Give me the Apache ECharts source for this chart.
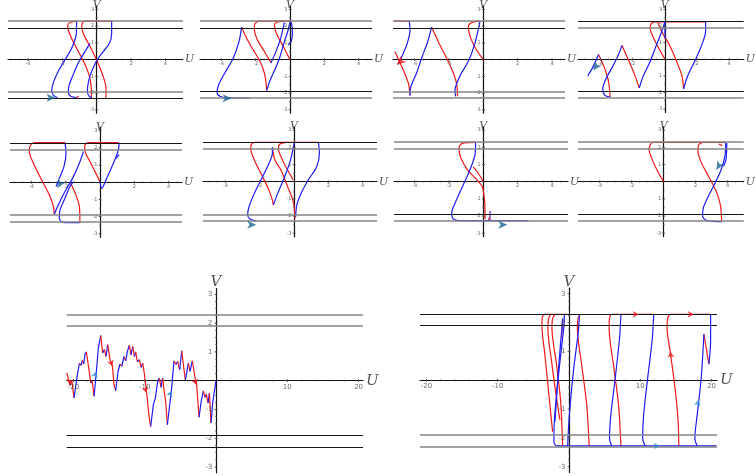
<!DOCTYPE html>
<html><head><meta charset="utf-8">
<script src="https://cdn.jsdelivr.net/npm/echarts@6/dist/echarts.min.js"></script>
<style>html,body{margin:0;padding:0;background:#fff}#c{width:756px;height:476px}</style>
</head><body><div id="c"></div>
<script>
// ---------- DATA (U, V) ----------
const thresholds = [2.3, 1.9, -1.9, -2.3];
const smallXTicks = [-4, -2, 2, 4];
const smallYTicks = [-3, -2, -1, 1, 2, 3];
const bigXTicks = [-20, -10, 10, 20];
const bigYTicks = [-3, -2, -1, 1, 2, 3];

const p1Red = [
 [[0.87,2.3],[-0.68,2.3],[-0.83,2.2],[-0.87,1.94],[-0.74,1.46],[-0.43,0.87],[-0.1,0.19],[0.19,-0.49],[0.43,-1.17],[0.54,-1.69],[0.54,-2.27]],
 [[-1.17,2.3],[-1.51,2.23],[-1.69,2.04],[-1.65,1.75],[-1.46,1.26],[-1.07,0.49],[-0.68,-0.29],[-0.43,-0.97],[-0.33,-1.55],[-0.31,-2.27]],
 [[-1.17,-2.27],[-1.05,-2.17]]
];
const p1Blue = [
 [[0.87,2.3],[0.87,1.55],[0.74,0.97],[0.39,0.49],[0.1,0.1],[-0.16,-0.39],[-0.39,-0.97],[-0.52,-1.55],[-0.54,-1.94],[-0.43,-2.19],[-0.29,-2.27]],
 [[-1.17,2.3],[-1.2,1.46],[-1.46,0.68],[-1.84,0],[-2.23,-0.68],[-2.52,-1.36],[-2.62,-1.88],[-2.52,-2.14],[-2.3,-2.27]],
 [[-0.39,0.97],[-0.68,0.49],[-1.07,-0.19],[-1.4,-0.97],[-1.61,-1.55],[-1.65,-1.94],[-1.51,-2.19],[-1.17,-2.27]]
];
const p1Arrows = [[-2.4,-2.27,-90]];

const p2Red = [
 [[-2.82,1.94],[-2.52,1.26],[-2.14,0.58],[-1.75,-0.1],[-1.5,-0.78],[-1.4,-1.36],[-1.36,-1.84]],
 [[0,2.3],[-1.75,2.3],[-2.04,2.14],[-2.08,1.84],[-1.94,1.26],[-1.55,0.58],[-1.11,-0.19]],
 [[-0.33,2.3],[-0.78,2.23],[-0.91,2.04],[-0.78,1.55],[-0.39,0.78],[0,0]]
];
const p2Blue = [
 [[-2.82,1.94],[-2.97,1.07],[-3.3,0.1],[-3.79,-0.78],[-4.14,-1.46],[-4.25,-1.94],[-4.08,-2.19],[-3.59,-2.29],[-2.33,-2.29]],
 [[-1.36,-1.84],[-1.17,-1.26],[-0.87,-0.58],[-0.58,0.19],[-0.33,1.07],[-0.14,1.65],[0,2.23]],
 [[-1.11,-0.19],[-0.78,0.58],[-0.52,1.36],[-0.39,1.94],[-0.33,2.23]],
 [[0,2.3],[0.1,2.14],[0.14,1.55],[0.06,1.07],[-0.1,0.87]]
];
const p2Arrows = [[-3.4,-2.31,-90]];

const p3Red = [
 [[-5.17,2.3],[-4.31,2.3]],
 [[-5.15,0.49],[-4.85,-0.19],[-4.56,-0.87],[-4.35,-1.46],[-4.27,-2.14]],
 [[-3.01,1.94],[-2.62,1.07],[-2.14,0.1],[-1.75,-0.78],[-1.55,-1.46],[-1.5,-2.19]],
 [[-0.19,2.3],[-0.72,2.19],[-0.87,1.94],[-0.76,1.36],[-0.45,0.68],[0,0]]
];
const p3Blue = [
 [[-4.31,2.3],[-4.27,1.75],[-4.43,0.97],[-4.7,0.29],[-4.95,-0.29]],
 [[-4.27,-2.14],[-4.23,-1.65],[-3.88,-0.78],[-3.59,0.1],[-3.24,1.07],[-3.01,1.94]],
 [[-1.61,-2.19],[-1.65,-1.84],[-1.36,-0.97],[-0.87,-0.1],[-0.49,0.97],[-0.19,2.3]]
];
const p3RedArrows = [[-5.05,-0.3,130]];

const p4Red = [
 [[-4.12,0.29],[-3.79,-0.43],[-3.53,-1.2],[-3.44,-1.79],[-3.4,-2.27]],
 [[-2.66,0.83],[-2.31,0.06],[-1.92,-0.82],[-1.59,-1.73]],
 [[0.06,2.25],[-0.62,2.25],[-0.85,2.14],[-0.91,1.84],[-0.72,1.32],[-0.37,0.64],[0,0.02]],
 [[2.54,2.25],[0.06,2.25]],
 [[-0.43,2.19],[-0.17,1.61],[0.25,0.93],[0.74,-0.14],[1.07,-1.01],[1.17,-1.79]]
];
const p4Blue = [
 [[-4.8,-1.01],[-4.45,-0.43],[-4.12,0.29]],
 [[-3.4,-2.27],[-3.73,-2.17],[-3.86,-1.79],[-3.67,-1.2],[-3.24,-0.43],[-2.89,0.25],[-2.66,0.83]],
 [[-1.59,-1.73],[-1.34,-1.01],[-0.91,-0.14],[-0.49,0.93],[-0.17,1.71],[0,2.25]],
 [[1.17,-1.79],[1.42,-1.01],[1.9,-0.04],[2.29,0.83],[2.54,1.71],[2.54,2.25]],
 [[0,2.25],[0.02,1.22]]
];
const p4Arrows = [[-4.45,-0.68,145]];

const p5Red = [
 [[-2.04,2.31],[-3.79,2.31],[-4.04,2.17],[-4.12,1.79],[-3.88,1.11],[-3.4,0.14],[-2.95,-0.74],[-2.72,-1.38],[-2.66,-1.86]],
 [[1.07,2.31],[-0.68,2.31],[-0.89,2.12],[-0.87,1.79],[-0.58,1.2],[0,0.04]],
 [[-1.71,-0.06],[-1.4,-0.74],[-1.2,-1.42],[-1.17,-2.35]]
];
const p5Blue = [
 [[-2.04,2.31],[-1.98,1.69],[-2.1,0.91],[-2.37,0.23],[-2.56,-0.25]],
 [[-2.66,-1.86],[-2.43,-1.32],[-2.04,-0.54],[-1.55,0.33],[-1.17,1.2],[-0.97,1.79]],
 [[0,0.04],[0.1,-0.35],[0.39,0.23],[0.78,1.11],[1.01,1.69],[1.11,2.17],[1.07,2.31]],
 [[1.11,1.61],[0.95,1.4]],
 [[-1.17,-2.35],[-2.14,-2.33],[-2.37,-2.1],[-2.33,-1.61],[-2.04,-0.93],[-1.75,-0.25],[-1.55,0.04]]
];
const p5Arrows = [[-2.49,-0.35,150]];

const p6Red = [
 [[1.42,2.29],[-2.27,2.29],[-2.47,2.19],[-2.52,1.94],[-2.31,1.26],[-1.88,0.39],[-1.46,-0.49],[-1.26,-1.07],[-1.2,-1.36]],
 [[-1.26,2.0],[-1.11,1.26],[-0.76,0.68],[-0.37,-0.29],[-0.04,-1.17],[0.06,-2.14]],
 [[-0.43,2.29],[-0.82,2.19],[-0.91,1.94],[-0.76,1.46],[-0.43,0.78],[-0.04,0.1]]
];
const p6Blue = [
 [[-1.2,-1.36],[-0.95,-0.68],[-0.62,0.1],[-0.23,1.17],[0.02,2.29]],
 [[-1.26,2.0],[-1.26,1.65],[-1.5,0.97],[-1.88,0.19],[-2.31,-0.68],[-2.62,-1.46],[-2.7,-1.94],[-2.56,-2.17],[-2.17,-2.29]],
 [[1.42,2.29],[1.48,1.65],[1.32,0.87],[0.83,0.1],[0.41,-0.68],[0.16,-1.36],[0.1,-2.04]]
];
const p6Arrows = [[-2.2,-2.5,-90]];

const p7Red = [
 [[-0.45,2.29],[-1.22,2.23],[-1.42,1.94],[-1.3,1.36],[-0.91,0.68],[-0.45,0.19],[-0.06,-0.29],[0.06,-0.97],[0.1,-1.65],[0.1,-2.19]],
 [[-0.58,0.87],[-0.29,0.49],[0,0]],
 [[0.3,-2.25],[0.36,-2.05]]
];
const p7Blue = [
 [[-0.45,2.29],[-0.49,1.55],[-0.78,0.68],[-1.17,-0.19],[-1.61,-1.17],[-1.84,-1.84],[-1.75,-2.17],[-1.26,-2.27],[2.62,-2.27]]
];
const p7Purple = [[[0.39,-1.69],[0.39,-2.23]]];
const p7Arrows = [[1.4,-2.5,-90]];

const p8Red = [
 [[3.88,2.29],[-0.68,2.29],[-0.83,2.16],[-0.91,1.88],[-0.72,1.3],[-0.33,0.52],[0,0]],
 [[2.43,2.29],[2.19,2.14],[2.14,1.81],[2.33,1.17],[2.82,0.29],[3.3,-0.58],[3.55,-1.36],[3.63,-2.33]],
 [[3.45,2.2],[3.65,2.1]]
];
const p8Blue = [
 [[3.63,-2.33],[2.72,-2.27],[2.43,-2.0],[2.49,-1.5],[2.78,-0.87],[3.2,-0.1],[3.59,0.68],[3.84,1.55],[3.88,2.29]],
 [[3.95,2.25],[3.9,1.3],[3.75,0.9]]
];
const p8Arrows = [[3.3,0.68,150]];

// long trajectory (bottom-left), vertices of the zigzag
const p9Path = [[-20.93,0.27],[-20.47,-0.16],[-20.23,0],[-19.91,-0.6],[-19.44,0.21],[-19.16,0.61],[-18.93,0.53],[-18.74,0.71],[-18.55,0.58],[-18.36,0.93],[-18.18,1.0],[-17.85,0.44],[-17.57,-0.08],[-17.38,0],[-17.1,-0.54],[-16.78,0.32],[-16.5,1.13],[-16.17,1.57],[-15.89,0.96],[-15.65,1.08],[-15.42,0.84],[-15.19,1.25],[-14.86,0.73],[-14.53,0.5],[-14.3,-0.14],[-14.07,-0.35],[-13.74,0.32],[-13.46,0.58],[-13.22,0.5],[-12.9,0.84],[-12.66,0.69],[-12.43,1.02],[-12.15,1.23],[-11.92,0.9],[-11.68,1.19],[-11.45,0.84],[-11.26,1.0],[-11.03,0.65],[-10.75,0.73],[-10.51,0.46],[-10.28,0.61],[-10.09,0.32],[-9.72,-0.43],[-9.39,-1.24],[-9.16,-1.59],[-8.79,-0.83],[-8.5,-0.6],[-8.18,-0.02],[-7.94,0.09],[-7.71,-0.23],[-7.48,0.09],[-7.24,-0.43],[-7.06,-0.72],[-6.82,-1.53],[-6.26,-0.35],[-5.89,0.69],[-5.61,0.56],[-5.37,0.67],[-5.09,0.38],[-4.81,1.04],[-4.58,0.56],[-4.3,0.03],[-4.11,0.27],[-3.88,0.61],[-3.64,0.32],[-3.32,0.69],[-3.08,0.32],[-2.94,0.09],[-2.71,-0.16],[-2.38,-1.27],[-2.06,-0.69],[-1.78,-0.35],[-1.54,-0.58],[-1.36,-0.46],[-1.12,-0.78],[-0.93,-0.43],[-0.7,-1.47],[-0.47,-0.78],[-0.23,-0.37],[0,0]];
const p9BlueMarks = [[-16.78,0.32,-20],[-6.26,-0.35,-20]];
const p9RedMarks = [[-20.47,-0.16,180],[-14.53,0.5,200],[-9.72,-0.43,200],[-2.71,-0.16,200]];

const p10Red = [
 [[-0.33,2.29],[-3.38,2.29],[-3.71,2.21],[-3.8,1.92],[-3.38,0.88],[-2.91,-0.28],[-2.54,-1.2],[-2.3,-1.78]],
 [[-2.58,2.29],[-2.86,2.15],[-2.96,1.81],[-2.44,0.65],[-1.74,-0.63],[-1.27,-1.38]],
 [[-1.97,2.29],[-2.3,2.15],[-2.39,1.81],[-1.74,0.53],[-1.17,-0.74],[-0.89,-2.28]],
 [[1.55,2.29],[1.27,2.15],[1.17,1.81],[1.78,0.53],[2.49,-0.86],[2.82,-2.28]],
 [[11.88,2.29],[6.01,2.29],[5.68,2.15],[5.63,1.81],[6.24,0.53],[6.95,-0.86],[7.28,-2.28]],
 [[19.86,2.29],[14.23,2.29],[13.85,2.15],[13.76,1.81],[14.23,0.94],[14.93,-0.39],[15.31,-1.44],[15.4,-2.28]],
 [[18.92,1.6],[19.62,0.56]]
];
const p10Blue = [
 [[-0.66,2.29],[-0.7,1.92],[-1.27,0.65],[-1.83,-0.74],[-2.11,-1.78],[-2.11,-2.13],[-1.74,-2.28],[20.7,-2.28]],
 [[1.46,2.29],[1.31,1.69],[0.61,0.3],[0.05,-1.2],[-0.19,-2.28]],
 [[-0.89,2.15],[-1.5,0.3],[-1.97,-1.44]],
 [[7.28,2.29],[7.09,1.46],[6.48,0.07],[5.87,-1.2],[5.68,-2.01],[6.01,-2.28]],
 [[11.88,2.29],[11.69,1.46],[11.03,0.07],[10.47,-1.2],[10.33,-2.01],[10.7,-2.28]],
 [[19.86,2.29],[19.86,1.34],[19.62,0.56]],
 [[18.92,1.6],[18.54,0.07],[17.98,-1.2],[17.65,-2.01],[17.98,-2.28]]
];
const p10Purple = [[[-0.89,2.04],[-1.03,1.46]]];
const p10RedMarks = [[9.77,2.29,-90],[17.5,2.29,-90],[14.23,1.0,5]];
const p10BlueMarks = [[12.72,-2.28,-90],[18.2,-0.68,-15]];

// ---------- LAYOUT ----------
const SS = 17.17;           // px per unit, small panels
const BX = 7.13, BY = 28.8; // px per unit, large panels
const layout = [
 {ox:96.7, oy:58.3, x0:8,   x1:183, big:false, lines:['g','k','g','k']},
 {ox:290,  oy:58.3, x0:200, x1:372, big:false, lines:['g','k','k','g']},
 {ox:483.3,oy:58.3, x0:393, x1:565, big:false, lines:['g','k','g','g']},
 {ox:670.7,oy:57.5, x0:578, x1:755, big:false, lines:['k','g','k','g']},
 {ox:100,  oy:182.3,x0:10,  x1:182, big:false, lines:['k','g','g','g']},
 {ox:294,  oy:181.7,x0:203, x1:377, big:false, lines:['k','g','g','g']},
 {ox:483.3,oy:181.7,x0:394, x1:568, big:false, lines:['g','g','k','g']},
 {ox:670,  oy:181.7,x0:578, x1:756, big:false, lines:['g','g','k','g']},
 {ox:216,  oy:380.7,x0:66.7,x1:363, big:true,  lines:['g','g','k','k']},
 {ox:569,  oy:380.3,x0:420, x1:717, big:true,  lines:['k','k','g','g']}
];
const RED = '#f01818', BLUE = '#1c1cf5', PURPLE = '#7a22c8', TEAL = '#1d6593';

const grids = [], xAxes = [], yAxes = [], series = [];
function range(a, b, step) { const r = []; for (let v = a; v <= b + 1e-9; v += step) if (Math.abs(v) > 1e-9) r.push(+v.toFixed(3)); return r; }

layout.forEach((L, i) => {
  const sx = L.big ? BX : SS, sy = L.big ? BY : SS, ymax = 3.2;
  const xmin = (L.x0 - L.ox)/sx, xmax = (L.x1 - L.ox)/sx;
  grids.push({left: L.x0, top: L.oy - ymax * sy, width: L.x1 - L.x0, height: 2 * ymax * sy});
  const nameStyle = {fontFamily:'DejaVu Serif', fontStyle:'italic', fontSize: L.big ? 15 : 11, color:'#555'};
  xAxes.push({
    gridIndex:i, type:'value', min:xmin, max:xmax,
    axisLine:{onZero:true, lineStyle:{color:'#111', width:1.2}},
    axisTick:{show:false}, axisLabel:{show:false}, splitLine:{show:false},
    name:'U', nameLocation:'end', nameGap: L.big ? 3 : 2, nameTextStyle: nameStyle
  });
  yAxes.push({
    gridIndex:i, type:'value', min:-ymax, max:ymax,
    axisLine:{onZero:true, lineStyle:{color:'#111', width:1.2}},
    axisTick:{show:false}, axisLabel:{show:false}, splitLine:{show:false},
    name:'V', nameLocation:'end', nameGap: L.big ? -1 : -5, nameTextStyle: nameStyle
  });
  // threshold lines
  series.push({
    type:'line', xAxisIndex:i, yAxisIndex:i, data:[], silent:true, z:1,
    markLine:{symbol:'none', silent:true, animation:false, label:{show:false},
      data: thresholds.map((t, k) => ({yAxis:t, lineStyle: L.lines[k] === 'g'
        ? {color:'#858585', width:1.7, type:'solid'} : {color:'#151515', width:1.2, type:'solid'}}))}
  });
  // tick marks & labels drawn on the zero axes
  const xt = L.big ? bigXTicks : smallXTicks, yt = L.big ? bigYTicks : smallYTicks;
  const fs = L.big ? 7 : 5;
  series.push({
    type:'scatter', xAxisIndex:i, yAxisIndex:i, silent:true, z:4,
    data: xt.map(t => [t, 0]), symbol:'rect', symbolSize:[0.8, 3], itemStyle:{color:'#333'},
    label:{show:true, position:'bottom', distance: L.big ? 1 : 0, fontSize:fs, color:'#444',
      fontFamily:'DejaVu Sans', formatter: p => String(p.value[0])}
  });
  series.push({
    type:'scatter', xAxisIndex:i, yAxisIndex:i, silent:true, z:4,
    data: yt.map(t => [0, t]), symbol:'rect', symbolSize:[3, 0.8], itemStyle:{color:'#333'},
    label:{show:true, position:'left', distance: L.big ? 2 : 1, fontSize:fs, color:'#444',
      fontFamily:'DejaVu Sans', formatter: p => String(p.value[1])}
  });
  // minor ticks
  const mx = L.big ? range(Math.ceil(xmin/2)*2, xmax, 2) : range(Math.ceil(xmin*2)/2, xmax, 0.5);
  const my = range(-3, 3, L.big ? 0.25 : 0.5);
  series.push({
    type:'scatter', xAxisIndex:i, yAxisIndex:i, silent:true, z:4, symbol:'rect',
    data: mx.map(t => [t, 0]), symbolSize:[0.8, 2], itemStyle:{color:'#555'}
  });
  series.push({
    type:'scatter', xAxisIndex:i, yAxisIndex:i, silent:true, z:4, symbol:'rect',
    data: my.map(t => [0, t]), symbolSize:[2, 0.8], itemStyle:{color:'#555'}
  });
});

function addSegs(gi, segs, color, smooth) {
  segs.forEach(seg => series.push({
    type:'line', xAxisIndex:gi, yAxisIndex:gi, data:seg, showSymbol:false, smooth: smooth,
    silent:true, z:3, clip:true, lineStyle:{color:color, width:1.2}
  }));
}
function addArrows(gi, arr, color, size) {
  series.push({
    type:'scatter', xAxisIndex:gi, yAxisIndex:gi, data:arr, symbol:'arrow', silent:true, z:5,
    symbolSize:size, symbolRotate:(v) => v[2], itemStyle:{color:color}
  });
}
function splitByDir(path) {
  const out = []; let cur = null, dir = null;
  for (let k = 1; k < path.length; k++) {
    const d = path[k][1] < path[k-1][1] ? 'down' : 'up';
    if (d !== dir) { cur = {dir:d, pts:[path[k-1]]}; out.push(cur); dir = d; }
    cur.pts.push(path[k]);
  }
  return out;
}

const sm = 0.3;
addSegs(0, p1Red, RED, sm); addSegs(0, p1Blue, BLUE, sm); addArrows(0, p1Arrows, TEAL, [6,9]);
addSegs(1, p2Red, RED, sm); addSegs(1, p2Blue, BLUE, sm); addArrows(1, p2Arrows, TEAL, [6,9]);
addSegs(2, p3Red, RED, sm); addSegs(2, p3Blue, BLUE, sm); addArrows(2, p3RedArrows, RED, [6,9]);
addSegs(3, p4Red, RED, sm); addSegs(3, p4Blue, BLUE, sm); addArrows(3, p4Arrows, TEAL, [6,9]);
addSegs(4, p5Red, RED, sm); addSegs(4, p5Blue, BLUE, sm); addArrows(4, p5Arrows, TEAL, [6,9]);
addSegs(5, p6Red, RED, sm); addSegs(5, p6Blue, BLUE, sm); addArrows(5, p6Arrows, TEAL, [6,9]);
addSegs(6, p7Red, RED, sm); addSegs(6, p7Blue, BLUE, sm); addSegs(6, p7Purple, PURPLE, false); addArrows(6, p7Arrows, TEAL, [6,9]);
addSegs(7, p8Red, RED, sm); addSegs(7, p8Blue, BLUE, sm); addArrows(7, p8Arrows, TEAL, [6,9]);
splitByDir(p9Path).forEach(s => addSegs(8, [s.pts], s.dir === 'down' ? RED : BLUE, false));
addArrows(8, p9BlueMarks, '#2a8ed0', [5,6]); addArrows(8, p9RedMarks, RED, [5,6]);
addSegs(9, p10Red, RED, 0.3); addSegs(9, p10Blue, BLUE, 0.3); addSegs(9, p10Purple, PURPLE, false);
addArrows(9, p10RedMarks, RED, [5,6]); addArrows(9, p10BlueMarks, '#2a8ed0', [5,6]);

const chart = echarts.init(document.getElementById('c'), null, {renderer:'canvas'});
chart.setOption({
  backgroundColor:'#fff', animation:false,
  textStyle:{fontFamily:'DejaVu Sans'},
  grid:grids, xAxis:xAxes, yAxis:yAxes, series:series
});
</script></body></html>
